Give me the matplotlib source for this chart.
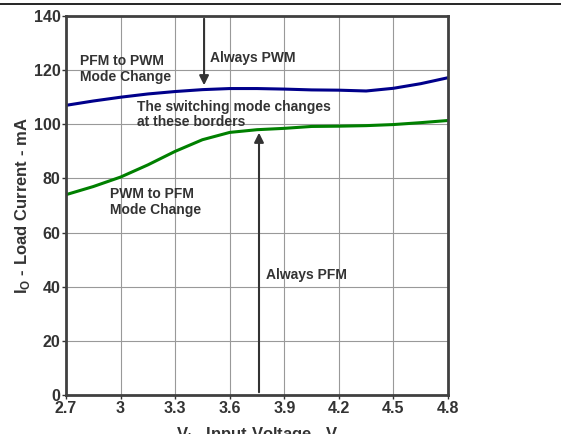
import matplotlib.pyplot as plt
from matplotlib.lines import Line2D

plt.rcParams['font.family'] = ['Liberation Sans', 'DejaVu Sans']
plt.rcParams['font.weight'] = 'bold'

# boundary curves
v_in = [2.7, 2.85, 3.0, 3.15, 3.3, 3.45, 3.6, 3.75, 3.9, 4.05, 4.2, 4.35, 4.5, 4.65, 4.8]
pfm_to_pwm = [107, 108.6, 110, 111.2, 112.1, 112.8, 113.2, 113.2, 113.0, 112.7, 112.6, 112.3, 113.3, 115.0, 117.2]
pwm_to_pfm = [74, 77, 80.5, 85, 90, 94.3, 97, 98, 98.5, 99.2, 99.3, 99.5, 99.9, 100.6, 101.4]

x_ticks = [2.7, 3.0, 3.3, 3.6, 3.9, 4.2, 4.5, 4.8]
x_labels = ['2.7', '3', '3.3', '3.6', '3.9', '4.2', '4.5', '4.8']
y_ticks = [0, 20, 40, 60, 80, 100, 120, 140]

txt = '#333333'

fig = plt.figure(figsize=(5.61, 4.34), dpi=100)
ax = fig.add_axes([66 / 561, 39 / 434, 382 / 561, 379 / 434])

ax.plot(v_in, pfm_to_pwm, color='#00008b', lw=2.2)
ax.plot(v_in, pwm_to_pfm, color='#008000', lw=2.2)

ax.set_xlim(2.7, 4.8)
ax.set_ylim(0, 140)
ax.set_xticks(x_ticks)
ax.set_xticklabels(x_labels)
ax.set_yticks(y_ticks)
ax.grid(True, color='#999999', lw=0.8)
ax.tick_params(labelsize=11.5, colors=txt, length=3, width=1, pad=1)
for lab in ax.get_xticklabels() + ax.get_yticklabels():
    lab.set_fontweight('bold')
for sp in ax.spines.values():
    sp.set_color('#404040')
    sp.set_linewidth(2)

ax.set_ylabel('I$_\\mathregular{O}$ - Load Current - mA', fontsize=12, fontweight='bold',
              color=txt, labelpad=1)
ax.set_xlabel('V$_\\mathregular{I}$ - Input Voltage - V', fontsize=12, fontweight='bold',
              color=txt, labelpad=7)

# arrows
ax.annotate('', xy=(3.459, 113.4), xytext=(3.459, 140),
            arrowprops=dict(arrowstyle='-|>', color='#333333', lw=1.5, mutation_scale=14))
ax.annotate('', xy=(3.761, 97.9), xytext=(3.761, 0),
            arrowprops=dict(arrowstyle='-|>', color='#333333', lw=1.5, mutation_scale=14))

ax.text(3.49, 124.5, 'Always PWM', fontsize=10, color=txt, va='center')
ax.text(3.80, 44.3, 'Always PFM', fontsize=10, color=txt, va='center')
ax.text(2.775, 120.5, 'PFM to PWM\nMode Change', fontsize=10, color=txt, va='center', linespacing=1.15)
ax.text(3.09, 103.6, 'The switching mode changes\nat these borders', fontsize=10, color=txt,
        va='center', linespacing=1.15)
ax.text(2.94, 71.3, 'PWM to PFM\nMode Change', fontsize=10, color=txt, va='center', linespacing=1.15)

fig.add_artist(Line2D([0, 1], [1 - 4 / 434, 1 - 4 / 434], color='black', lw=1.2))

fig.savefig('out.png', dpi=100)
